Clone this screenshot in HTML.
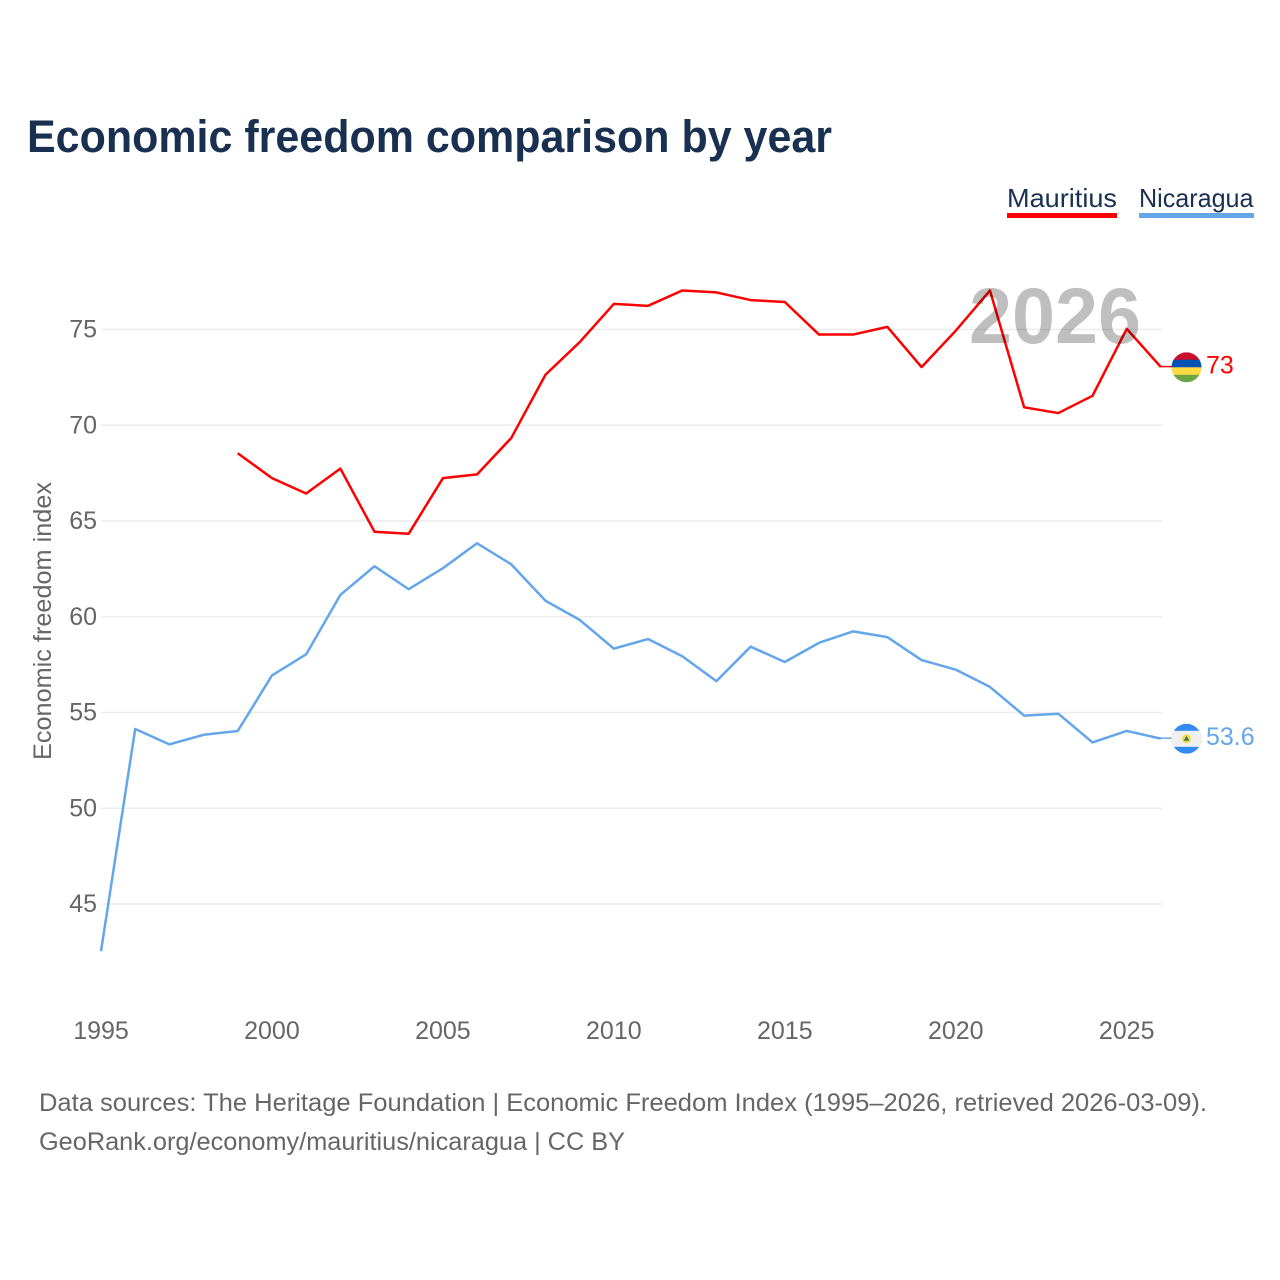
<!DOCTYPE html>
<html lang="en">
<head>
<meta charset="utf-8">
<title>Economic freedom comparison by year</title>
<style>
html,body{margin:0;padding:0;background:#fff;}
svg{display:block;font-family:"Liberation Sans",sans-serif;}
</style>
</head>
<body>
<svg id="chart" xmlns="http://www.w3.org/2000/svg" width="1280" height="1280" viewBox="0 0 1280 1280">
  <defs>
    <clipPath id="flag-clip-a"><circle id="clip-a" r="15"></circle></clipPath>
    <clipPath id="flag-clip-b"><circle id="clip-b" r="15"></circle></clipPath>
  </defs>
  <text x="27" y="152" font-size="45" font-weight="700" fill="#1a3050" textLength="805" lengthAdjust="spacingAndGlyphs">Economic freedom comparison by year</text>
  <g id="legend">
    <g>
      <text x="1007" y="207" font-size="26" fill="#1a3050" textLength="110" lengthAdjust="spacingAndGlyphs">Mauritius</text>
      <rect x="1007" y="213" width="110" height="5" fill="#ff0000"></rect>
    </g>
    <g>
      <text x="1139" y="207" font-size="26" fill="#1a3050" textLength="114.500" lengthAdjust="spacingAndGlyphs">Nicaragua</text>
      <rect x="1139" y="213" width="115" height="5" fill="#64a6ea"></rect>
    </g>
  </g>
  <g id="grid"></g>
  <g id="y-ticks"></g>
  <g id="x-ticks"></g>
  <text transform="translate(51,621) rotate(-90)" text-anchor="middle" font-size="25" fill="#666666" textLength="278" lengthAdjust="spacingAndGlyphs">Economic freedom index</text>
  <g id="series" transform="translate(0,-0.7)"></g>
  <text x="969" y="343" font-size="79" font-weight="700" fill="#000000" fill-opacity="0.25" textLength="172" lengthAdjust="spacingAndGlyphs">2026</text>
  <g id="flag-mauritius" clip-path="url(#flag-clip-a)"></g>
  <g id="flag-nicaragua" clip-path="url(#flag-clip-b)"></g>
  <g id="end-labels"></g>
  <text x="39" y="1111" font-size="25" fill="#666666" textLength="1168" lengthAdjust="spacingAndGlyphs">Data sources: The Heritage Foundation | Economic Freedom Index (1995–2026, retrieved 2026-03-09).</text>
  <text x="39" y="1150" font-size="25" fill="#666666" textLength="586" lengthAdjust="spacingAndGlyphs">GeoRank.org/economy/mauritius/nicaragua | CC BY</text>
</svg>
<script>
var yTickValues = [45, 50, 55, 60, 65, 70, 75];
var xTickYears = [1995, 2000, 2005, 2010, 2015, 2020, 2025];
var mauritiusYears = [1999, 2000, 2001, 2002, 2003, 2004, 2005, 2006, 2007, 2008, 2009, 2010, 2011, 2012, 2013, 2014, 2015, 2016, 2017, 2018, 2019, 2020, 2021, 2022, 2023, 2024, 2025, 2026];
var mauritiusValues = [68.5, 67.2, 66.4, 67.7, 64.4, 64.3, 67.2, 67.4, 69.3, 72.6, 74.3, 76.3, 76.2, 77, 76.9, 76.5, 76.4, 74.7, 74.7, 75.1, 73, 74.9, 77, 70.9, 70.6, 71.5, 75, 73];
var nicaraguaYears = [1995, 1996, 1997, 1998, 1999, 2000, 2001, 2002, 2003, 2004, 2005, 2006, 2007, 2008, 2009, 2010, 2011, 2012, 2013, 2014, 2015, 2016, 2017, 2018, 2019, 2020, 2021, 2022, 2023, 2024, 2025, 2026];
var nicaraguaValues = [42.5, 54.1, 53.3, 53.8, 54, 56.9, 58, 61.1, 62.6, 61.4, 62.5, 63.8, 62.7, 60.8, 59.8, 58.3, 58.8, 57.9, 56.6, 58.4, 57.6, 58.6, 59.2, 58.9, 57.7, 57.2, 56.3, 54.8, 54.9, 53.4, 54, 53.6];

var NS = 'http://www.w3.org/2000/svg';
function xScale(year) { return 101 + (year - 1995) * 34.19; }
function yScale(value) { return 329.5 + (75 - value) * 19.15; }
function make(tag, attrs, parent) {
  var el = document.createElementNS(NS, tag);
  for (var k in attrs) { el.setAttribute(k, attrs[k]); }
  parent.appendChild(el);
  return el;
}
function pathFor(years, values) {
  return years.map(function (yr, i) {
    return (i ? 'L' : 'M') + xScale(yr).toFixed(2) + ' ' + yScale(values[i]).toFixed(2);
  }).join(' ');
}

var grid = document.getElementById('grid');
var yTicks = document.getElementById('y-ticks');
yTickValues.forEach(function (v) {
  var line = make('line', { x1: 101, x2: 1162, y1: yScale(v), y2: yScale(v), stroke: '#ececec', 'stroke-width': 1.5 }, grid);
  
  
  var label = make('text', { x: 97, y: yScale(v) + 8, 'text-anchor': 'end', 'font-size': 25, fill: '#666666' }, yTicks);
  
  
  label.textContent = v;
});

var xTicks = document.getElementById('x-ticks');
xTickYears.forEach(function (yr) {
  var label = make('text', { x: xScale(yr), y: 1039, 'text-anchor': 'middle', 'font-size': 25, fill: '#666666' }, xTicks);
  
  
  label.textContent = yr;
});

var series = document.getElementById('series');
var blueLine = make('path', { d: pathFor(nicaraguaYears, nicaraguaValues), fill: 'none', stroke: '#64a6ea', 'stroke-width': 2.5, 'stroke-linejoin': 'round' }, series);


var redLine = make('path', { d: pathFor(mauritiusYears, mauritiusValues), fill: 'none', stroke: '#ff0000', 'stroke-width': 2.5, 'stroke-linejoin': 'round' }, series);



var lastM = mauritiusValues[mauritiusValues.length - 1];
var lastN = nicaraguaValues[nicaraguaValues.length - 1];
var yM = yScale(lastM) - 0.5;
var yN = yScale(lastN) - 0.5;
var flagX = 1186.5;

var connM = make('line', { x1: xScale(2026), x2: flagX - 14, y1: yM, y2: yM, stroke: '#ff0000', 'stroke-width': 1.5 }, series);


var connN = make('line', { x1: xScale(2026), x2: flagX - 14, y1: yN, y2: yN, stroke: '#64a6ea', 'stroke-width': 1.5 }, series);



document.getElementById('clip-a').setAttribute('cx', flagX);
document.getElementById('clip-a').setAttribute('cy', yM);
document.getElementById('clip-b').setAttribute('cx', flagX);
document.getElementById('clip-b').setAttribute('cy', yN);

var flagM = document.getElementById('flag-mauritius');
make('rect', { x: flagX - 15, y: yM - 15, width: 30, height: 8, fill: '#c8102e' }, flagM);
make('rect', { x: flagX - 15, y: yM - 7.5, width: 30, height: 8, fill: '#0052b4' }, flagM);
make('rect', { x: flagX - 15, y: yM, width: 30, height: 8, fill: '#ffda44' }, flagM);
make('rect', { x: flagX - 15, y: yM + 7.5, width: 30, height: 8, fill: '#6da544' }, flagM);

var flagN = document.getElementById('flag-nicaragua');
make('rect', { x: flagX - 15, y: yN - 15, width: 30, height: 30, fill: '#338af3' }, flagN);
make('rect', { x: flagX - 15, y: yN - 8, width: 30, height: 16, fill: '#f0f0f0' }, flagN);
make('circle', { cx: flagX, cy: yN, r: 4.5, fill: '#ffda44' }, flagN);
make('path', { d: 'M' + flagX + ' ' + (yN - 3) + ' l3 5 h-6 z', fill: '#3d7a6a' }, flagN);

var endLabels = document.getElementById('end-labels');
var labelM = make('text', { x: 1206, y: yM + 6, 'font-size': 25, fill: '#ff0000' }, endLabels);


labelM.textContent = lastM;
var labelN = make('text', { x: 1206, y: yN + 6, 'font-size': 25, fill: '#64a6ea' }, endLabels);


labelN.textContent = lastN;
</script>
</body>
</html>
